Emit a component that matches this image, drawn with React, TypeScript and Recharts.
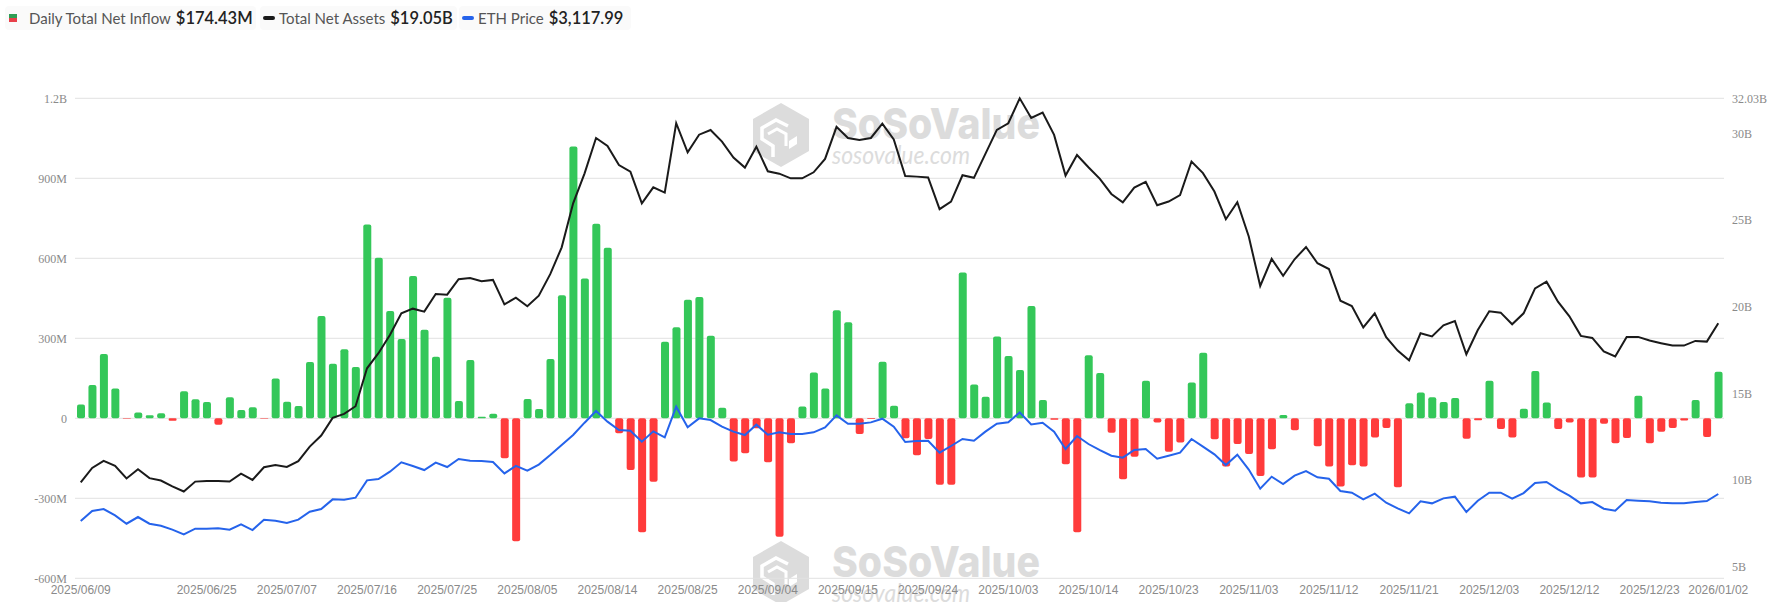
import { Bar, Cell, CartesianGrid, ComposedChart, Line, XAxis, YAxis } from "recharts";

const dates = [
  "2025/06/09", "2025/06/10", "2025/06/11", "2025/06/12", "2025/06/13", "2025/06/16", "2025/06/17", "2025/06/18", "2025/06/20", "2025/06/23", "2025/06/24", "2025/06/25", "2025/06/26", "2025/06/27", "2025/06/30",
  "2025/07/01", "2025/07/02", "2025/07/03", "2025/07/07", "2025/07/08", "2025/07/09", "2025/07/10", "2025/07/11", "2025/07/14", "2025/07/15", "2025/07/16", "2025/07/17", "2025/07/18", "2025/07/21", "2025/07/22", "2025/07/23", "2025/07/24", "2025/07/25", "2025/07/28", "2025/07/29", "2025/07/30", "2025/07/31",
  "2025/08/01", "2025/08/04", "2025/08/05", "2025/08/06", "2025/08/07", "2025/08/08", "2025/08/11", "2025/08/12", "2025/08/13", "2025/08/14", "2025/08/15", "2025/08/18", "2025/08/19", "2025/08/20", "2025/08/21", "2025/08/22", "2025/08/25", "2025/08/26", "2025/08/27", "2025/08/28", "2025/08/29",
  "2025/09/02", "2025/09/03", "2025/09/04", "2025/09/05", "2025/09/08", "2025/09/09", "2025/09/10", "2025/09/11", "2025/09/12", "2025/09/15", "2025/09/16", "2025/09/17", "2025/09/18", "2025/09/19", "2025/09/22", "2025/09/23", "2025/09/24", "2025/09/25", "2025/09/26", "2025/09/29", "2025/09/30",
  "2025/10/01", "2025/10/02", "2025/10/03", "2025/10/06", "2025/10/07", "2025/10/08", "2025/10/09", "2025/10/10", "2025/10/13", "2025/10/14", "2025/10/15", "2025/10/16", "2025/10/17", "2025/10/20", "2025/10/21", "2025/10/22", "2025/10/23", "2025/10/24", "2025/10/27", "2025/10/28", "2025/10/29", "2025/10/30", "2025/10/31",
  "2025/11/03", "2025/11/04", "2025/11/05", "2025/11/06", "2025/11/07", "2025/11/10", "2025/11/11", "2025/11/12", "2025/11/13", "2025/11/14", "2025/11/17", "2025/11/18", "2025/11/19", "2025/11/20", "2025/11/21", "2025/11/24", "2025/11/25", "2025/11/26", "2025/11/28",
  "2025/12/01", "2025/12/02", "2025/12/03", "2025/12/04", "2025/12/05", "2025/12/08", "2025/12/09", "2025/12/10", "2025/12/11", "2025/12/12", "2025/12/15", "2025/12/16", "2025/12/17", "2025/12/18", "2025/12/19", "2025/12/22", "2025/12/23", "2025/12/24", "2025/12/26", "2025/12/29", "2025/12/30", "2025/12/31", "2026/01/02",
];

// daily net inflow, $M
const inflow = [
  52, 125, 241, 112, -2, 22, 11, 19, -9, 101, 71, 61, -24, 79, 31,
  41, -1.5, 149, 62, 46, 211, 384, 205, 259, 192, 727, 602, 402, 297, 534, 332, 231, 452, 65, 219, 6, 17,
  -150, -461, 72, 35, 222, 461, 1019, 524, 730, 640, -56, -194, -427, -238, 287, 341, 445, 455, 310, 40,
  -162, -131, -37, -165, -444, -94, 44, 172, 112, 405, 360, -59, -3, 212, 47, -75, -139, -78, -249, -249, 547, 127, 81,
  307, 234, 181, 421, 69, -5, -172, -427, 236, 170, -54, -229, -144, 141, -16, -125, -91, 134, 246, -79, -181, -96,
  -134, -216, -116, 12, -45, 0, -105, -181, -256, -176, -181, -72, -36, -259, 56, 97, 79, 61, 76, -77,
  -7, 141, -40, -72, 36, 177, 59, -40, -16, -222, -222, -20, -94, -74, 85, -94, -50, -36, -8, 69, -70, 174.43,
];

// total net assets, $B
const netAssets = [
  9.87, 10.7, 11.11, 10.82, 10.09, 10.62, 10.11, 9.97, 9.64, 9.34, 9.91, 9.95, 9.94, 9.91, 10.37,
  10.01, 10.74, 10.87, 10.76, 11.09, 11.93, 12.57, 13.59, 13.82, 14.26, 16.45, 17.32, 18.37, 19.62, 19.89, 19.72, 20.74, 20.7, 21.59, 21.66, 21.47, 21.55,
  20.14, 20.53, 20.03, 20.64, 21.88, 23.43, 25.97, 27.7, 29.74, 29.28, 28.18, 27.8, 25.97, 26.89, 26.59, 30.59, 28.91, 29.93, 30.2, 29.53,
  28.61, 28.03, 29.24, 27.82, 27.68, 27.41, 27.41, 27.76, 28.53, 30.38, 29.74, 29.63, 29.74, 30.57, 29.66, 27.55, 27.51, 27.46, 25.63, 26.07, 27.59, 27.44, 28.82,
  30.21, 30.59, 32.03, 30.9, 31.21, 29.92, 27.57, 28.76, 28.05, 27.38, 26.51, 26.03, 26.88, 27.21, 25.86, 26.07, 26.44, 28.38, 27.71, 26.65, 25.05, 26.03,
  24.06, 21.2, 22.76, 21.79, 22.74, 23.45, 22.51, 22.18, 20.35, 20.04, 18.81, 19.62, 18.24, 17.47, 16.91, 18.47, 18.29, 18.93, 19.18, 17.26,
  18.66, 19.74, 19.66, 18.99, 19.62, 21.06, 21.45, 20.29, 19.45, 18.32, 18.2, 17.42, 17.13, 18.26, 18.26, 18.05, 17.9, 17.76, 17.76, 18.03, 17.99, 19.05,
];

// ETH price, $
const ethPrice = [
  2589, 2785, 2824, 2700, 2536, 2667, 2536, 2497, 2419, 2327, 2438, 2438, 2445, 2419, 2523,
  2412, 2615, 2595, 2549, 2615, 2772, 2824, 3013, 3007, 3046, 3386, 3412, 3556, 3739, 3667, 3588, 3732, 3647, 3804, 3771, 3765, 3745,
  3523, 3670, 3575, 3695, 3882, 4078, 4274, 4516, 4745, 4536, 4372, 4359, 4144, 4346, 4229, 4830, 4425, 4601, 4568, 4438,
  4340, 4274, 4477, 4281, 4327, 4294, 4294, 4327, 4425, 4660, 4496, 4496, 4522, 4594, 4438, 4137, 4157, 4163, 3928, 4059, 4196, 4163, 4340,
  4497, 4523, 4719, 4483, 4516, 4340, 4000, 4255, 4098, 3980, 3869, 3830, 3980, 4000, 3810, 3869, 3928, 4196, 4046, 3895, 3686, 3889,
  3598, 3222, 3458, 3314, 3477, 3569, 3445, 3418, 3177, 3144, 3013, 3124, 2948, 2837, 2739, 2974, 2935, 3033, 3066, 2765,
  2987, 3144, 3144, 3026, 3137, 3333, 3353, 3209, 3085, 2935, 2961, 2830, 2791, 3000, 2987, 2974, 2948, 2935, 2935, 2961, 2981, 3117.99,
];

const dateTicks = [
  "2025/06/09", "2025/06/25", "2025/07/07", "2025/07/16", "2025/07/25", "2025/08/05", "2025/08/14", "2025/08/25", "2025/09/04", "2025/09/15", "2025/09/24",
  "2025/10/03", "2025/10/14", "2025/10/23", "2025/11/03", "2025/11/12", "2025/11/21", "2025/12/03", "2025/12/12", "2025/12/23", "2026/01/02",
];
const inflowTicks = [-600, -300, 0, 300, 600, 900, 1200];
const assetTicks = [5, 10, 15, 20, 25, 30, 32.03];

const legendItems = [
  { label: "Daily Total Net Inflow", value: "$174.43M", left: 5, width: 251, swatch: "split" },
  { label: "Total Net Assets", value: "$19.05B", left: 260, width: 197, swatch: "#1a1a1a" },
  { label: "ETH Price", value: "$3,117.99", left: 459, width: 172, swatch: "#2563eb" },
];

const GREEN = "#34c759";
const RED = "#ff3b3b";
const GRID = "#e2e2e2";
const AXIS = "#8a8a8a";
const MARK = "#dcdcdc";

const rows = dates.map((date, i) => ({
  date,
  inflow: inflow[i],
  assets: netAssets[i],
  eth: ethPrice[i],
}));

function fmtInflow(v: number) {
  if (v === 0) return "0";
  if (v === 1200) return "1.2B";
  return `${v}M`;
}

function Watermark({ top }: { top: number }) {
  return (
    <svg
      width={320}
      height={80}
      viewBox="0 0 320 80"
      style={{ position: "absolute", left: 750, top, overflow: "visible" }}
    >
      <g transform="translate(3,0)">
        <polygon points="28,0 56,16 56,48 28,64 0,48 0,16" fill={MARK} />
        <polyline points="35,23 23,17 9,25 9,36 20,43 20,54" fill="none" stroke="#fff" strokeWidth={3.5} />
        <polyline points="15,31 24,26 33,31 33,43" fill="none" stroke="#fff" strokeWidth={3} />
        <polygon points="36,38 44,33 44,41 36,46" fill="#fff" />
      </g>
      <text
        x={82}
        y={36}
        fontFamily="Inter, sans-serif"
        fontSize={43}
        fontWeight={800}
        fill={MARK}
        textLength={208}
        lengthAdjust="spacingAndGlyphs"
      >
        SoSoValue
      </text>
      <text
        x={82}
        y={61}
        fontFamily="Lato, sans-serif"
        fontSize={25}
        fontStyle="italic"
        fill={MARK}
        textLength={138}
        lengthAdjust="spacingAndGlyphs"
      >
        sosovalue.com
      </text>
    </svg>
  );
}

function Legend() {
  return (
    <>
      {legendItems.map((it) => (
        <div
          key={it.label}
          style={{
            position: "absolute",
            left: it.left,
            top: 6,
            width: it.width,
            height: 24,
            background: "#fafafa",
            borderRadius: 4,
            fontFamily: "Lato, sans-serif",
            whiteSpace: "nowrap",
            lineHeight: "24px",
          }}
        >
          {it.swatch === "split" ? (
            <span style={{ position: "absolute", left: 4, top: 8, width: 8, height: 8 }}>
              <span style={{ display: "block", height: 4, background: "#2e9e55" }} />
              <span style={{ display: "block", height: 4, background: "#e8404a" }} />
            </span>
          ) : (
            <span
              style={{
                position: "absolute",
                left: 3,
                top: 10,
                width: 12,
                height: 4,
                borderRadius: 2,
                background: it.swatch,
              }}
            />
          )}
          <span
            style={{
              position: "absolute",
              left: it.swatch === "split" ? 24 : 19,
              fontSize: 15,
              color: "#555",
            }}
          >
            {it.label}
            <span style={{ marginLeft: 5, fontSize: 16.5, fontWeight: 600, color: "#222" }}>{it.value}</span>
          </span>
        </div>
      ))}
    </>
  );
}

export default function App() {
  const serif = { fontFamily: "'Liberation Serif', serif", fontSize: 12, fill: AXIS };
  return (
    <div style={{ position: "absolute", left: 0, top: 0, width: 1772, height: 602, overflow: "hidden", background: "#fff" }}>
      <Watermark top={103} />
      <Watermark top={541} />
      <Legend />
      <div style={{ position: "absolute", left: 0, top: 0 }}>
        <ComposedChart
          width={1772}
          height={602}
          data={rows}
          margin={{ top: 98.3, right: 0, bottom: 0, left: 0 }}
          barCategoryGap={0}
        >
          <CartesianGrid yAxisId="flow" vertical={false} stroke={GRID} strokeWidth={1} />
          <XAxis
            dataKey="date"
            ticks={dateTicks}
            interval={0}
            height={23.7}
            tickLine={false}
            axisLine={false}
            tickSize={0}
            tickMargin={7}
            tick={{ fontFamily: "'Liberation Sans', sans-serif", fontSize: 12, fill: AXIS }}
          />
          <YAxis
            yAxisId="flow"
            width={75}
            domain={[-600, 1200]}
            ticks={inflowTicks}
            interval={0}
            tickFormatter={fmtInflow}
            tickLine={false}
            axisLine={false}
            tickSize={0}
            tickMargin={8}
            tick={serif}
          />
          <YAxis
            yAxisId="assets"
            orientation="right"
            width={48}
            domain={[4.33, 32.03]}
            ticks={assetTicks}
            interval={0}
            tickFormatter={(v: number) => `${v}B`}
            tickLine={false}
            axisLine={false}
            tickSize={0}
            tickMargin={8}
            tick={{ ...serif, textAnchor: "start" }}
          />
          <YAxis yAxisId="eth" hide width={0} domain={[1466, 10874]} />
          <Bar yAxisId="flow" dataKey="inflow" barSize={8} radius={2} isAnimationActive={false}>
            {rows.map((r) => (
              <Cell key={r.date} fill={r.inflow >= 0 ? GREEN : RED} />
            ))}
          </Bar>
          <Line
            yAxisId="assets"
            type="linear"
            dataKey="assets"
            stroke="#1a1a1a"
            strokeWidth={2}
            dot={false}
            isAnimationActive={false}
          />
          <Line
            yAxisId="eth"
            type="linear"
            dataKey="eth"
            stroke="#2563eb"
            strokeWidth={2}
            dot={false}
            isAnimationActive={false}
          />
        </ComposedChart>
      </div>
    </div>
  );
}
